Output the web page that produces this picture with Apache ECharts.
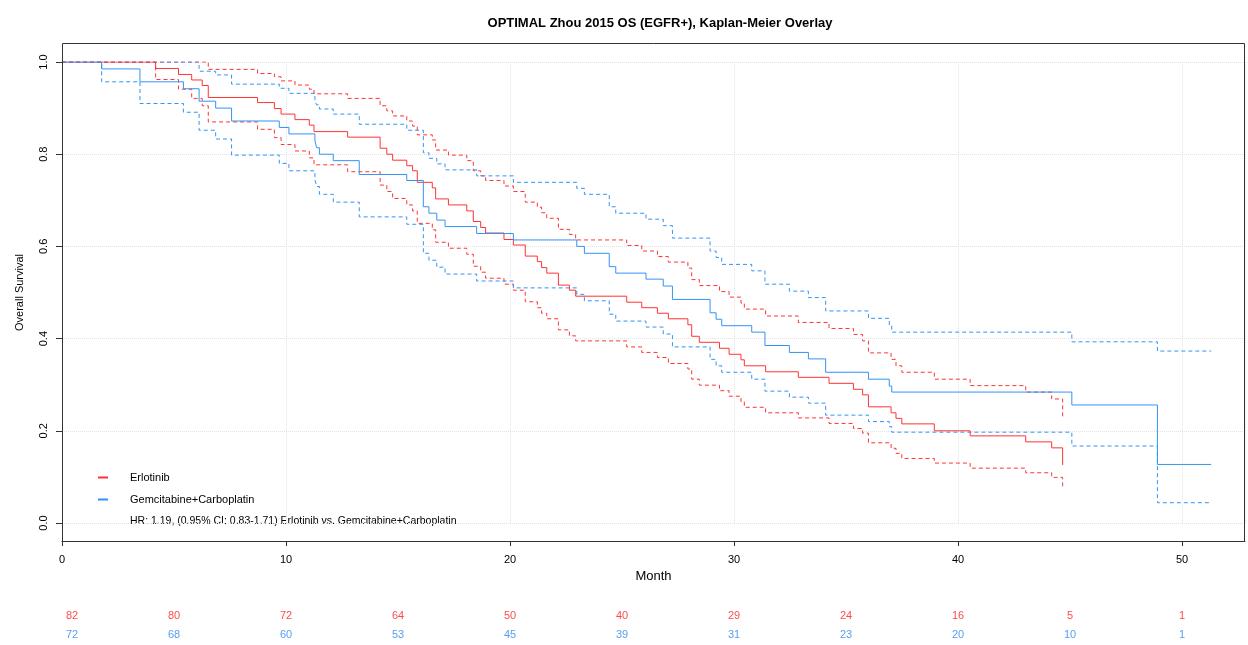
<!DOCTYPE html>
<html>
<head>
<meta charset="utf-8">
<title>OPTIMAL Zhou 2015 OS</title>
<script src="https://cdn.jsdelivr.net/npm/echarts@6/dist/echarts.min.js"></script>
<style>
  html, body { margin: 0; padding: 0; background: #fff; }
  #main { width: 1248px; height: 645px; }
</style>
</head>
<body>
<div id="main"></div>
<script>
// Erlotinib arm (months, KM estimate, lower / upper 95% CI)
var erlTime = [0, 4.18, 5.2, 5.79, 6.26, 6.53, 8.73, 9.48, 9.78, 10.4, 11.04, 11.25, 12.75, 14.2, 14.5, 14.76, 15.39, 15.65, 15.86, 16.53, 16.68, 17.25, 18.07, 18.36, 18.69, 18.91, 19.73, 20.15, 20.68, 21.22, 21.41, 21.64, 22.16, 22.65, 22.93, 25.21, 25.88, 26.58, 27.07, 27.94, 28.11, 28.45, 29.35, 29.78, 30.31, 30.46, 31.41, 32.87, 34.24, 35.33, 35.74, 36.0, 37.01, 37.23, 37.49, 38.94, 40.54, 43.02, 44.18, 44.67];
var erlEst = [1, 0.986, 0.973, 0.961, 0.949, 0.923, 0.912, 0.899, 0.887, 0.875, 0.863, 0.849, 0.837, 0.813, 0.800, 0.787, 0.775, 0.764, 0.739, 0.727, 0.703, 0.690, 0.677, 0.654, 0.641, 0.629, 0.615, 0.603, 0.579, 0.567, 0.554, 0.542, 0.516, 0.505, 0.492, 0.479, 0.467, 0.455, 0.443, 0.430, 0.405, 0.392, 0.379, 0.366, 0.354, 0.341, 0.328, 0.316, 0.303, 0.290, 0.278, 0.252, 0.239, 0.227, 0.215, 0.200, 0.189, 0.176, 0.163, 0.126];
var erlUpper = [1, 1, 1, 1, 1, 0.984, 0.975, 0.968, 0.959, 0.950, 0.941, 0.931, 0.921, 0.905, 0.894, 0.883, 0.872, 0.861, 0.842, 0.831, 0.809, 0.798, 0.786, 0.764, 0.753, 0.743, 0.731, 0.719, 0.696, 0.685, 0.673, 0.661, 0.637, 0.626, 0.614, 0.602, 0.590, 0.578, 0.566, 0.553, 0.528, 0.515, 0.502, 0.490, 0.477, 0.464, 0.449, 0.435, 0.422, 0.409, 0.395, 0.369, 0.355, 0.341, 0.327, 0.312, 0.298, 0.284, 0.269, 0.225];
var erlLower = [1, 0.962, 0.941, 0.921, 0.905, 0.870, 0.854, 0.836, 0.821, 0.807, 0.792, 0.777, 0.762, 0.733, 0.719, 0.704, 0.690, 0.677, 0.650, 0.636, 0.609, 0.596, 0.583, 0.557, 0.544, 0.531, 0.518, 0.505, 0.480, 0.467, 0.455, 0.443, 0.419, 0.406, 0.395, 0.382, 0.370, 0.359, 0.346, 0.334, 0.312, 0.299, 0.287, 0.275, 0.263, 0.251, 0.239, 0.228, 0.216, 0.205, 0.195, 0.174, 0.162, 0.151, 0.140, 0.130, 0.119, 0.109, 0.099, 0.073];

// Gemcitabine+Carboplatin arm
var gcTime = [0, 1.77, 3.48, 5.42, 6.12, 6.86, 7.57, 9.70, 10.13, 11.29, 11.37, 11.49, 12.11, 13.27, 15.39, 16.13, 16.38, 16.73, 17.1, 18.51, 20.15, 22.98, 23.32, 24.43, 24.72, 26.07, 26.84, 27.25, 28.93, 29.2, 29.45, 30.79, 31.38, 32.47, 33.32, 34.09, 36.0, 36.93, 37.04, 45.08, 48.9, 51.3];
var gcEst = [1, 0.985, 0.957, 0.942, 0.915, 0.900, 0.872, 0.858, 0.844, 0.829, 0.814, 0.800, 0.786, 0.756, 0.743, 0.686, 0.672, 0.657, 0.643, 0.628, 0.614, 0.600, 0.585, 0.556, 0.542, 0.529, 0.514, 0.485, 0.456, 0.442, 0.428, 0.414, 0.385, 0.370, 0.356, 0.327, 0.312, 0.297, 0.284, 0.256, 0.127, 0.127];
var gcUpper = [1, 1, 1, 1, 0.980, 0.972, 0.952, 0.943, 0.932, 0.915, 0.907, 0.898, 0.887, 0.865, 0.852, 0.803, 0.791, 0.779, 0.766, 0.753, 0.739, 0.726, 0.713, 0.686, 0.672, 0.659, 0.645, 0.618, 0.590, 0.576, 0.561, 0.547, 0.518, 0.503, 0.489, 0.460, 0.444, 0.428, 0.414, 0.393, 0.373, 0.373];
var gcLower = [1, 0.957, 0.910, 0.891, 0.852, 0.833, 0.798, 0.780, 0.764, 0.745, 0.730, 0.713, 0.696, 0.664, 0.648, 0.585, 0.570, 0.555, 0.540, 0.525, 0.510, 0.496, 0.482, 0.453, 0.438, 0.425, 0.410, 0.382, 0.355, 0.341, 0.327, 0.312, 0.286, 0.273, 0.260, 0.234, 0.220, 0.209, 0.197, 0.167, 0.044, 0.044];

// number at risk
var riskMonths = [0, 5, 10, 15, 20, 25, 30, 35, 40, 45, 50];
var riskErl = [82, 80, 72, 64, 50, 40, 29, 24, 16, 5, 1];
var riskGc = [72, 68, 60, 53, 45, 39, 31, 23, 20, 10, 1];

var RED = '#ff3333';
var BLUE = '#3393f5';
var FONT = '"Liberation Sans", Arial, sans-serif';
var XMAX = 52.81;

function pairs(t, v) {
  return t.map(function (x, i) { return [x, v[i]]; });
}

function kmLine(name, t, v, color, dashed) {
  return {
    name: name,
    type: 'line',
    step: 'end',
    xAxisIndex: 0,
    yAxisIndex: 0,
    symbol: 'none',
    silent: true,
    animation: false,
    lineStyle: { color: color, width: 1, type: dashed ? [4, 3] : 'solid' },
    itemStyle: { color: color },
    data: pairs(t, v)
  };
}

function riskRow(counts, yPos, color) {
  return {
    type: 'scatter',
    xAxisIndex: 1,
    yAxisIndex: 1,
    symbolSize: 0,
    silent: true,
    animation: false,
    label: {
      show: true,
      position: 'inside',
      color: color,
      fontSize: 11,
      fontFamily: FONT,
      formatter: function (p) { return p.value[2]; }
    },
    data: riskMonths.map(function (m, i) {
      var item = { value: [m, yPos, counts[i]] };
      if (i === 0) item.label = { offset: [10, 0] };
      return item;
    })
  };
}

var chart = echarts.init(document.getElementById('main'));

var option = {
  backgroundColor: '#fff',
  title: {
    text: 'OPTIMAL Zhou 2015 OS (EGFR+), Kaplan-Meier Overlay',
    left: 655,
    top: 12,
    textAlign: 'center',
    textStyle: { fontSize: 13, fontWeight: 'bold', color: '#000', fontFamily: FONT }
  },
  legend: {
    data: ['Erlotinib', 'Gemcitabine+Carboplatin'],
    orient: 'vertical',
    left: 93,
    top: 467,
    itemGap: 11,
    itemWidth: 10,
    itemHeight: 2,
    icon: 'rect',
    selectedMode: false,
    textStyle: { fontSize: 11, color: '#000', fontFamily: FONT, padding: [0, 0, 0, 17] }
  },
  grid: [
    { left: 62, right: 3, top: 62, bottom: 122 },
    { left: 62, right: 3, top: 606, height: 40 }
  ],
  xAxis: [
    {
      type: 'value',
      gridIndex: 0,
      min: 0,
      max: XMAX,
      interval: 10,
      offset: 18,
      name: 'Month',
      nameLocation: 'middle',
      nameGap: 26,
      nameTextStyle: { fontSize: 13, color: '#000', fontFamily: FONT },
      axisLine: { show: true, onZero: false, lineStyle: { color: '#333' } },
      axisTick: { show: true, length: 5, lineStyle: { color: '#333' } },
      axisLabel: { fontSize: 11, color: '#000', fontFamily: FONT, margin: 13, showMaxLabel: false },
      splitLine: { show: true, lineStyle: { color: '#e4e4e4', type: 'dotted' } }
    },
    { type: 'value', gridIndex: 1, min: 0, max: XMAX, show: false }
  ],
  yAxis: [
    {
      type: 'value',
      gridIndex: 0,
      min: 0,
      max: 1,
      interval: 0.2,
      name: 'Overall Survival',
      nameLocation: 'middle',
      nameRotate: 90,
      nameGap: 37,
      nameTextStyle: { fontSize: 11, color: '#000', fontFamily: FONT },
      axisLine: { show: true, onZero: false, lineStyle: { color: '#333' } },
      axisTick: { show: true, length: 6, lineStyle: { color: '#333' } },
      axisLabel: {
        rotate: 90,
        fontSize: 11,
        color: '#000',
        fontFamily: FONT,
        margin: 13,
        formatter: function (v) { return v.toFixed(1); }
      },
      splitLine: { show: true, lineStyle: { color: '#e4e4e4', type: 'dotted' } }
    },
    { type: 'value', gridIndex: 1, min: 0, max: 4, show: false }
  ],
  graphic: [
    {
      type: 'rect',
      silent: true,
      z: 100,
      shape: { x: 62.5, y: 43.5, width: 1182, height: 498 },
      style: { fill: 'none', stroke: '#333', lineWidth: 1 }
    },
    {
      type: 'text',
      silent: true,
      left: 130,
      top: 516,
      style: {
        text: 'HR: 1.19, (0.95% CI: 0.83-1.71) Erlotinib vs. Gemcitabine+Carboplatin',
        fontSize: 10.5,
        fontFamily: FONT,
        fill: '#000'
      }
    }
  ],
  series: [
    kmLine('Erlotinib upper', erlTime, erlUpper, RED, true),
    kmLine('Erlotinib lower', erlTime, erlLower, RED, true),
    kmLine('Gemcitabine upper', gcTime, gcUpper, BLUE, true),
    kmLine('Gemcitabine lower', gcTime, gcLower, BLUE, true),
    kmLine('Erlotinib', erlTime, erlEst, RED, false),
    kmLine('Gemcitabine+Carboplatin', gcTime, gcEst, BLUE, false),
    riskRow(riskErl, 3, '#ff1a1a'),
    riskRow(riskGc, 1, '#2b86f0')
  ]
};

chart.setOption(option);
</script>
</body>
</html>
